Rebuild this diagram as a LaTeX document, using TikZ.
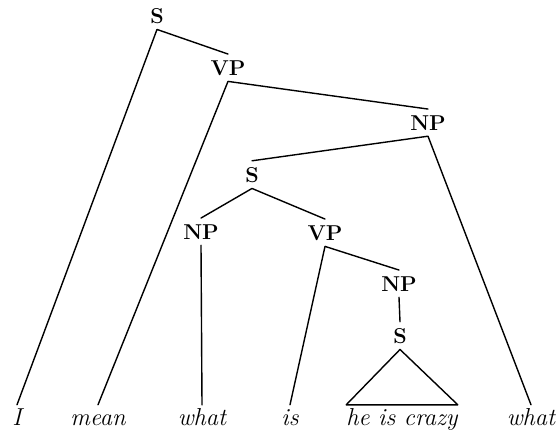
\documentclass[tikz,border=0pt]{standalone}
\usepackage{fontspec}
\begin{document}
\begin{tikzpicture}[x=1pt,y=-1pt,
  cat/.style={font=\fontsize{21.5}{25}\selectfont\bfseries, inner xsep=4pt, inner ysep=6pt, anchor=base},
  leaf/.style={font=\fontsize{24.5}{28}\selectfont\itshape, inner sep=0pt, text height=20pt, text depth=5pt, anchor=base},
  branch/.style={line width=1.4pt, line join=round, line cap=round}]
\useasboundingbox (0,0) rectangle (557,434);

% category labels
\node[cat] (s0)  at (157,23)  {S};
\node[cat] (vp0) at (228,75)  {VP};
\node[cat] (np0) at (428,130) {NP};
\node[cat] (s1)  at (252,182) {S};
\node[cat] (np1) at (201,239) {NP};
\node[cat] (vp1) at (325,240) {VP};
\node[cat] (np2) at (399,291) {NP};
\node[cat] (s2)  at (400,343) {S};

% terminal words
\node[leaf] (w1) at (17,425)  {I};
\node[leaf] (w2) at (98,425)  {mean};
\node[leaf] (w3) at (202,425) {what};
\node[leaf] (w4) at (290,425) {is};
\node[leaf, minimum width=107pt] (w5) at (402,425) {he is crazy};
\node[leaf] (w6) at (531,425) {what};

% branches
\draw[branch] (w1.north) -- (s0.south) -- (vp0.north);
\draw[branch] (w2.north) -- (vp0.south) -- (np0.north);
\draw[branch] (s1.north) -- (np0.south) -- (w6.north);
\draw[branch] (np1.north) -- (s1.south) -- (vp1.north);
\draw[branch] (np1.south) -- (w3.north);
\draw[branch] (w4.north) -- (vp1.south) -- (np2.north);
\draw[branch] (np2.south) -- (s2.north);
\draw[branch] (s2.south) -- (w5.north west) -- (w5.north east) -- cycle;
\end{tikzpicture}
\end{document}
